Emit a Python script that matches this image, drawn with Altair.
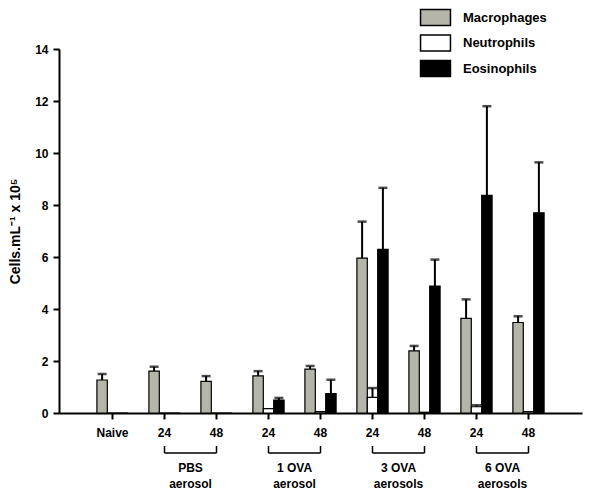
import altair as alt
import pandas as pd

# ---- data ----
groups = ["Naive", "PBS|24", "PBS|48", "1OVA|24", "1OVA|48",
          "3OVA|24", "3OVA|48", "6OVA|24", "6OVA|48"]
series = ["Macrophages", "Neutrophils", "Eosinophils"]
macro = [1.27, 1.61, 1.22, 1.43, 1.69, 5.96, 2.39, 3.64, 3.48]
macro_err = [1.50, 1.78, 1.42, 1.61, 1.81, 7.36, 2.58, 4.37, 3.72]
neutro = [0.0, 0.0, 0.0, 0.17, 0.05, 0.60, 0.03, 0.24, 0.05]
neutro_err = [None, None, None, None, None, 0.96, None, 0.30, None]
eos = [0.0, 0.0, 0.0, 0.50, 0.75, 6.29, 4.88, 8.37, 7.70]
eos_err = [None, None, None, 0.58, 1.28, 8.66, 5.90, 11.80, 9.64]

bracket_start = ["PBS|24", "1OVA|24", "3OVA|24", "6OVA|24"]
bracket_end = ["PBS|48", "1OVA|48", "3OVA|48", "6OVA|48"]
bracket_label = ["PBS\naerosol", "1 OVA\naerosol", "3 OVA\naerosols", "6 OVA\naerosols"]

colors = ["#b5b6a9", "#ffffff", "#000000"]
FONT = "Liberation Sans"

rows = []
for name, vals, errs in [(series[0], macro, macro_err),
                         (series[1], neutro, neutro_err),
                         (series[2], eos, eos_err)]:
    for g, v, e in zip(groups, vals, errs):
        rows.append({"group": g, "cell": name, "value": v, "err": e})
df = pd.DataFrame(rows)
df_err = df.dropna(subset=["err"])

br = pd.DataFrame({"start": bracket_start, "end": bracket_end, "label": bracket_label})
br_v = pd.DataFrame({"pos": bracket_start + bracket_end})

x_scale = alt.Scale(domain=groups, paddingInner=0.4, paddingOuter=0.729)
x_enc = alt.X("group:N", scale=x_scale,
              axis=alt.Axis(title=None, labelAngle=0,
                            labelExpr="indexof(datum.label,'|')>=0 ? split(datum.label,'|')[1] : datum.label",
                            labelFont=FONT, labelFontWeight="bold", labelFontSize=12,
                            labelColor="black", labelPadding=8,
                            domainColor="black", domainWidth=2,
                            tickColor="black", tickWidth=2, tickSize=6))
xo = alt.XOffset("cell:N", scale=alt.Scale(domain=series, paddingInner=0, paddingOuter=0))
y_scale = alt.Scale(domain=[0, 14], nice=False)

bars = alt.Chart(df).mark_bar(stroke="black", strokeWidth=1.2).encode(
    x=x_enc,
    xOffset=xo,
    y=alt.Y("value:Q", scale=y_scale,
            axis=alt.Axis(title="Cells.mL⁻¹ x 10⁵", values=list(range(0, 15, 2)),
                          grid=False, titleFont=FONT, titleFontWeight="bold",
                          titleFontSize=14, titleColor="black", titlePadding=12,
                          labelFont=FONT, labelFontWeight="bold", labelFontSize=12,
                          labelColor="black", labelPadding=5,
                          domainColor="black", domainWidth=2,
                          tickColor="black", tickWidth=2, tickSize=6)),
    fill=alt.Fill("cell:N",
                  scale=alt.Scale(domain=series, range=colors),
                  legend=alt.Legend(title=None, orient="none", legendX=367, legendY=-41,
                                    symbolType="M-1.76,-0.94H1.76V0.94H-1.76Z",
                                    symbolSize=289, symbolStrokeColor="black",
                                    symbolStrokeWidth=1.5, labelOffset=18,
                                    labelFont=FONT, labelFontWeight="bold",
                                    labelFontSize=13, labelColor="black",
                                    rowPadding=2.5, padding=0)),
)

err_rule = alt.Chart(df_err).mark_rule(color="black", strokeWidth=2).encode(
    x=alt.X("group:N", scale=x_scale), xOffset=xo,
    y=alt.Y("value:Q", scale=y_scale), y2="err:Q",
)
err_cap = alt.Chart(df_err).mark_tick(color="black", thickness=2.5, size=9).encode(
    x=alt.X("group:N", scale=x_scale), xOffset=xo,
    y=alt.Y("err:Q", scale=y_scale),
)

br_h = alt.Chart(br).mark_rule(color="black", strokeWidth=1.5).encode(
    x=alt.X("start:N", scale=x_scale), x2="end:N", y=alt.value(404),
)
br_ends = alt.Chart(br_v).mark_rule(color="black", strokeWidth=1.5).encode(
    x=alt.X("pos:N", scale=x_scale), y=alt.value(397), y2=alt.value(404),
)
br_text = alt.Chart(br).mark_text(
    baseline="top", align="center", dx=26, lineBreak="\n", lineHeight=16,
    font=FONT, fontWeight="bold", fontSize=12, color="black",
).encode(x=alt.X("start:N", scale=x_scale), y=alt.value(414), text="label:N")

chart = alt.layer(bars, err_rule, err_cap, br_h, br_ends, br_text).properties(
    width=523, height=364,
    autosize=alt.AutoSizeParams(type="none"),
    padding={"left": 51, "top": 41, "right": 10, "bottom": 80},
).configure_view(stroke=None)

chart.save("out.html", embed_options={"renderer": "svg", "actions": False})
